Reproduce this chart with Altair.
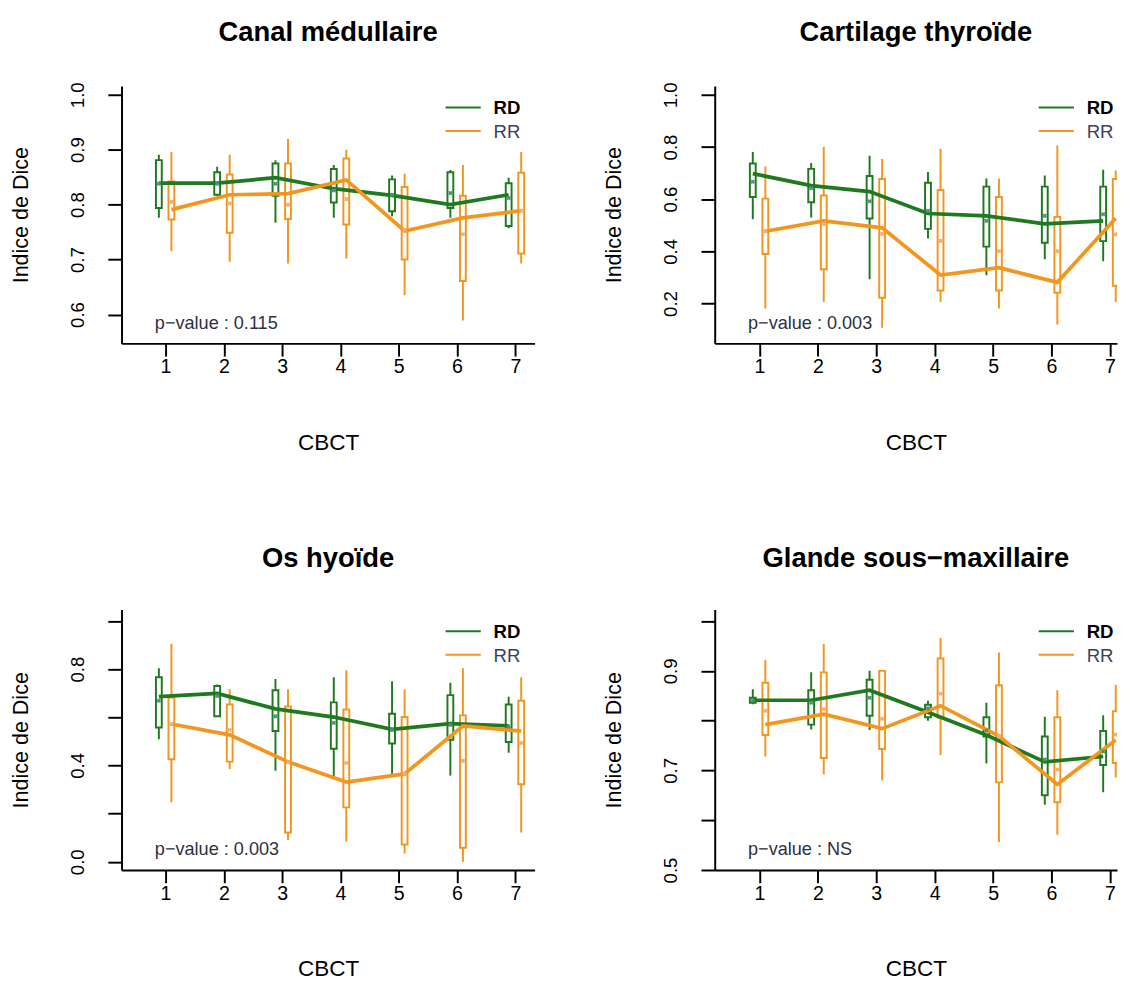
import altair as alt
import pandas as pd

FONT = "Liberation Sans"
GREEN = "#1f7a1f"
ORANGE = "#f3961f"
GREEN_MEAN = "#4f8f7f"
ORANGE_MEAN = "#f4ad6e"

cbct = [1, 2, 3, 4, 5, 6, 7]
series = ["RD", "RR"]
titles = ["Canal médullaire", "Cartilage thyroïde", "Os hyoïde", "Glande sous\u2212maxillaire"]
pvalues = ["p\u2212value : 0.115", "p\u2212value : 0.003", "p\u2212value : 0.003", "p\u2212value : NS"]

y_ticks_1 = [0.6, 0.7, 0.8, 0.9, 1.0]
y_ticks_2 = [0.2, 0.4, 0.6, 0.8, 1.0]
y_ticks_3 = [0.0, 0.2, 0.4, 0.6, 0.8, 1.0]
y_labels_3 = ["0.0", "0.4", "0.8"]
y_ticks_4 = [0.5, 0.6, 0.7, 0.8, 0.9, 1.0]
y_labels_4 = ["0.5", "0.7", "0.9"]

# ---- Canal médullaire ----
cm_rd_min = [0.776, 0.816, 0.767, 0.776, 0.779, 0.776, 0.757]
cm_rd_q1 = [0.794, 0.818, 0.816, 0.804, 0.788, 0.794, 0.761]
cm_rd_med = [0.839, 0.839, 0.849, 0.829, 0.817, 0.800, 0.818]
cm_rd_q3 = [0.881, 0.859, 0.875, 0.865, 0.846, 0.859, 0.839]
cm_rd_max = [0.891, 0.869, 0.881, 0.872, 0.853, 0.863, 0.849]
cm_rd_mean = [0.838, 0.838, 0.838, 0.826, 0.818, 0.821, 0.812]
cm_rr_min = [0.715, 0.696, 0.693, 0.702, 0.635, 0.589, 0.693]
cm_rr_q1 = [0.773, 0.749, 0.774, 0.764, 0.700, 0.661, 0.711]
cm_rr_med = [0.791, 0.818, 0.820, 0.845, 0.752, 0.776, 0.789]
cm_rr_q3 = [0.842, 0.855, 0.875, 0.884, 0.832, 0.816, 0.858]
cm_rr_max = [0.896, 0.891, 0.920, 0.900, 0.856, 0.872, 0.896]
cm_rr_mean = [0.805, 0.802, 0.800, 0.810, 0.754, 0.746, 0.789]

# ---- Cartilage thyroïde ----
ct_rd_min = [0.523, 0.530, 0.293, 0.449, 0.308, 0.370, 0.362]
ct_rd_q1 = [0.608, 0.588, 0.526, 0.486, 0.418, 0.433, 0.439]
ct_rd_med = [0.698, 0.652, 0.629, 0.545, 0.536, 0.505, 0.517]
ct_rd_q3 = [0.737, 0.716, 0.689, 0.663, 0.648, 0.648, 0.648]
ct_rd_max = [0.781, 0.739, 0.766, 0.704, 0.679, 0.691, 0.713]
ct_rd_mean = [0.667, 0.642, 0.592, 0.555, 0.517, 0.536, 0.542]
ct_rr_min = [0.181, 0.206, 0.107, 0.206, 0.181, 0.119, 0.206]
ct_rr_q1 = [0.390, 0.331, 0.222, 0.250, 0.250, 0.241, 0.268]
ct_rr_med = [0.477, 0.517, 0.490, 0.309, 0.337, 0.281, 0.527]
ct_rr_q3 = [0.602, 0.614, 0.677, 0.635, 0.608, 0.532, 0.677]
ct_rr_max = [0.725, 0.800, 0.754, 0.793, 0.679, 0.806, 0.710]
ct_rr_mean = [0.477, 0.505, 0.467, 0.440, 0.400, 0.400, 0.465]

# ---- Os hyoïde ----
oh_rd_min = [0.509, 0.601, 0.378, 0.351, 0.365, 0.358, 0.453]
oh_rd_q1 = [0.558, 0.604, 0.543, 0.469, 0.491, 0.507, 0.497]
oh_rd_med = [0.686, 0.699, 0.635, 0.601, 0.550, 0.574, 0.564]
oh_rd_q3 = [0.766, 0.730, 0.712, 0.662, 0.615, 0.692, 0.653]
oh_rd_max = [0.804, 0.736, 0.759, 0.766, 0.750, 0.743, 0.685]
oh_rd_mean = [0.669, 0.689, 0.604, 0.577, 0.547, 0.568, 0.561]
oh_rr_min = [0.247, 0.385, 0.091, 0.084, 0.034, 0.000, 0.122]
oh_rr_q1 = [0.426, 0.416, 0.122, 0.226, 0.072, 0.058, 0.322]
oh_rr_med = [0.572, 0.527, 0.415, 0.331, 0.365, 0.564, 0.543]
oh_rr_q3 = [0.682, 0.653, 0.645, 0.632, 0.601, 0.608, 0.669]
oh_rr_max = [0.905, 0.716, 0.716, 0.795, 0.716, 0.804, 0.766]
oh_rr_mean = [0.572, 0.547, 0.412, 0.410, 0.365, 0.419, 0.493]

# ---- Glande sous-maxillaire ----
gs_rd_min = [0.833, 0.782, 0.781, 0.800, 0.714, 0.631, 0.656]
gs_rd_q1 = [0.836, 0.792, 0.810, 0.807, 0.768, 0.650, 0.711]
gs_rd_med = [0.841, 0.841, 0.861, 0.817, 0.771, 0.717, 0.728]
gs_rd_q3 = [0.846, 0.861, 0.882, 0.832, 0.807, 0.768, 0.779]
gs_rd_max = [0.863, 0.897, 0.900, 0.840, 0.836, 0.808, 0.811]
gs_rd_mean = [0.840, 0.836, 0.846, 0.825, 0.780, 0.722, 0.738]
gs_rr_min = [0.728, 0.692, 0.680, 0.731, 0.556, 0.571, 0.686]
gs_rr_q1 = [0.771, 0.725, 0.743, 0.806, 0.676, 0.636, 0.715]
gs_rr_med = [0.792, 0.813, 0.784, 0.830, 0.769, 0.672, 0.761]
gs_rr_q3 = [0.876, 0.897, 0.900, 0.925, 0.871, 0.807, 0.819]
gs_rr_max = [0.922, 0.954, 0.900, 0.966, 0.937, 0.861, 0.872]
gs_rr_mean = [0.820, 0.823, 0.804, 0.854, 0.769, 0.702, 0.772]

OFFSET = {"RD": -0.115, "RR": 0.10}
HALF = 0.05
MEAN_COL = {"RD": GREEN_MEAN, "RR": ORANGE_MEAN}


def build_df(rd, rr):
    rows = []
    for s, st in (("RD", rd), ("RR", rr)):
        for i, c in enumerate(cbct):
            xc = c + OFFSET[s]
            rows.append(dict(cbct=c, series=s, xc=xc, xl=xc - HALF, xr=xc + HALF,
                             lo=st[0][i], q1=st[1][i], med=st[2][i], q3=st[3][i],
                             hi=st[4][i], mean=st[5][i], mcol=MEAN_COL[s]))
    return pd.DataFrame(rows)


def panel(title, pval, df, ydom, yticks, ylabels, width, height, xdom, title_offset):
    xs = alt.Scale(domain=xdom, nice=False, zero=False)
    ys = alt.Scale(domain=ydom, nice=False, zero=False)
    color = alt.Color("series:N", scale=alt.Scale(domain=series, range=[GREEN, ORANGE]), legend=None)
    xaxis = alt.Axis(values=cbct, format="d", title="CBCT", grid=False, labelFlush=False,
                     tickSize=13, labelPadding=1, labelFontSize=20,
                     titleFontSize=23, titleFontWeight="normal",
                     titleX=width / 2, titleY=101, titleBaseline="middle", titleAlign="center")
    yargs = dict(values=yticks, format=".1f", title="Indice de Dice", grid=False, labelFlush=False,
                 tickSize=14, labelPadding=25, labelFontSize=19, labelAngle=270,
                 labelAlign="center", labelBaseline="alphabetic",
                 titleFontSize=22, titleFontWeight="normal", titleAngle=270,
                 titleAlign="center", titleBaseline="alphabetic",
                 titleX=-96, titleY=height / 2)
    if ylabels is not None:
        lst = ",".join("'%s'" % l for l in ylabels)
        yargs["labelExpr"] = "indexof([%s], datum.label) >= 0 ? datum.label : ''" % lst
    yaxis = alt.Axis(**yargs)

    base = alt.Chart(df)
    X = lambda f: alt.X(f, scale=xs, axis=xaxis)
    Y = lambda f: alt.Y(f, scale=ys, axis=yaxis)

    whisk_lo = base.mark_rule(strokeWidth=2, clip=True).encode(
        x=X("xc:Q"), y=Y("lo:Q"), y2="q1:Q", color=color)
    whisk_hi = base.mark_rule(strokeWidth=2, clip=True).encode(
        x=X("xc:Q"), y=Y("q3:Q"), y2="hi:Q", color=color)
    boxes = base.mark_rect(filled=False, strokeWidth=2, clip=True).encode(
        x=X("xl:Q"), x2="xr:Q", y=Y("q1:Q"), y2="q3:Q", color=color)
    lines = base.mark_line(strokeWidth=3.8, clip=True).encode(
        x=X("xc:Q"), y=Y("med:Q"), color=color, detail="series:N")
    means = base.mark_point(shape="cross", angle=45, filled=True, size=22, opacity=1,
                            strokeWidth=0, clip=True).encode(
        x=X("xc:Q"), y=Y("mean:Q"), fill=alt.Fill("mcol:N", scale=None))

    leg_rd = alt.Chart(pd.DataFrame({"series": ["RD"]})).mark_rule(
        color=GREEN, strokeWidth=2).encode(x=alt.value(331), x2=alt.value(367), y=alt.value(22))
    leg_rr = alt.Chart(pd.DataFrame({"series": ["RR"]})).mark_rule(
        color=ORANGE, strokeWidth=2).encode(x=alt.value(331), x2=alt.value(367), y=alt.value(46))
    txt_rd = alt.Chart(pd.DataFrame({"series": ["RD"]})).mark_text(
        align="left", baseline="middle", fontSize=19, fontWeight="bold", color="black").encode(
        x=alt.value(380), y=alt.value(23), text="series:N")
    txt_rr = alt.Chart(pd.DataFrame({"series": ["RR"]})).mark_text(
        align="left", baseline="middle", fontSize=19, color="#3a4258").encode(
        x=alt.value(380), y=alt.value(47), text="series:N")
    ptxt = alt.Chart(pd.DataFrame({"p": [pval]})).mark_text(
        align="left", baseline="alphabetic", fontSize=18.5, color="#2e3040").encode(
        x=alt.value(34), y=alt.value(height - 15), text="p:N")

    return alt.layer(whisk_lo, whisk_hi, boxes, lines, means,
                     leg_rd, leg_rr, txt_rd, txt_rr, ptxt).properties(
        width=width, height=height,
        title=alt.TitleParams(title, fontSize=28, fontWeight="bold", anchor="middle",
                              frame="group", offset=title_offset, baseline="alphabetic",
                              color="black"))


df1 = build_df([cm_rd_min, cm_rd_q1, cm_rd_med, cm_rd_q3, cm_rd_max, cm_rd_mean],
               [cm_rr_min, cm_rr_q1, cm_rr_med, cm_rr_q3, cm_rr_max, cm_rr_mean])
df2 = build_df([ct_rd_min, ct_rd_q1, ct_rd_med, ct_rd_q3, ct_rd_max, ct_rd_mean],
               [ct_rr_min, ct_rr_q1, ct_rr_med, ct_rr_q3, ct_rr_max, ct_rr_mean])
df3 = build_df([oh_rd_min, oh_rd_q1, oh_rd_med, oh_rd_q3, oh_rd_max, oh_rd_mean],
               [oh_rr_min, oh_rr_q1, oh_rr_med, oh_rr_q3, oh_rr_max, oh_rr_mean])
df4 = build_df([gs_rd_min, gs_rd_q1, gs_rd_med, gs_rd_q3, gs_rd_max, gs_rd_mean],
               [gs_rr_min, gs_rr_q1, gs_rr_med, gs_rr_q3, gs_rr_max, gs_rr_mean])

XL = [0.245, 7.33]
XR = [0.233, 7.122]

p1 = panel(titles[0], pvalues[0], df1, [0.5475, 1.016], y_ticks_1, None, 422, 263, XL, 14)
p2 = panel(titles[1], pvalues[1], df2, [0.047, 1.034], y_ticks_2, None, 411, 263, XR, 14)
p3 = panel(titles[2], pvalues[2], df3, [-0.034, 1.047], y_ticks_3, y_labels_3, 422, 266, XL, 16)
p4 = panel(titles[3], pvalues[3], df4, [0.5, 1.023], y_ticks_4, y_labels_4, 411, 266, XR, 16)

chart = alt.vconcat(
    alt.hconcat(p1, p2, spacing=68),
    alt.hconcat(p3, p4, spacing=68),
    spacing=91,
).properties(
    padding={"left": 1, "top": 0, "right": 0, "bottom": 0}
).configure(
    font=FONT
).configure_view(
    stroke="transparent"
).configure_axis(
    domainColor="black", domainWidth=2, tickColor="black", tickWidth=2,
    labelColor="black", titleColor="black", labelFont=FONT, titleFont=FONT
)

chart.save("out.html", embed_options={"renderer": "svg", "actions": False})
